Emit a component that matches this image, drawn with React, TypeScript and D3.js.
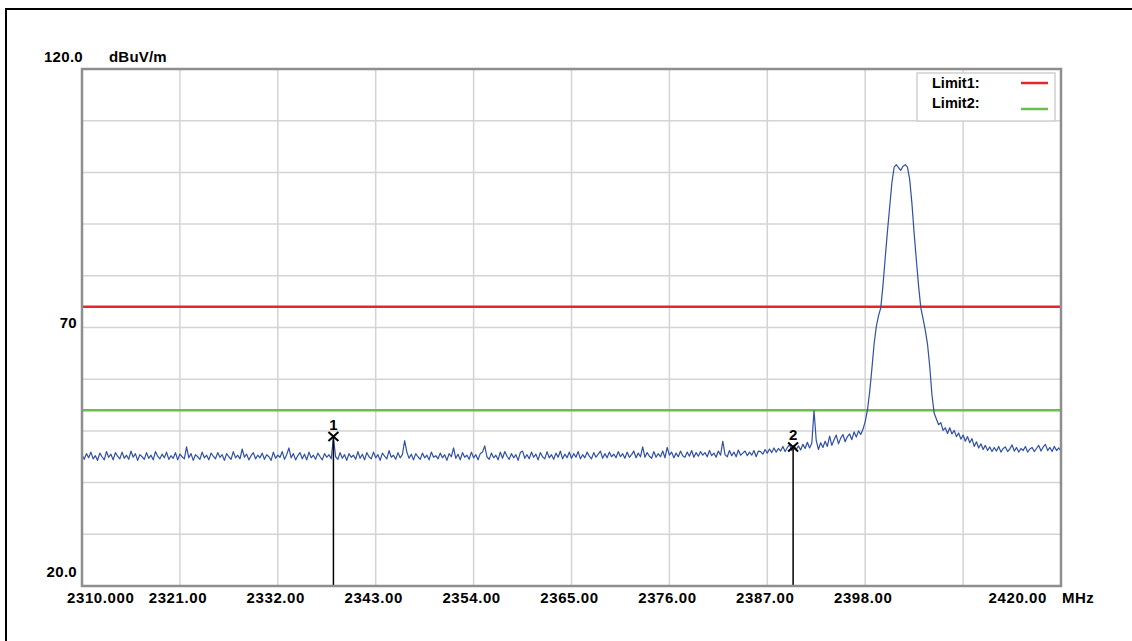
import React from "react";
import * as d3 from "d3";

// spectrum analyser sweep, 2310 - 2420 MHz, 0.25 MHz per point
const traceStartMHz = 2310;
const traceStepMHz = 0.25;
const traceLevels = [
  45.4, 44.5, 45.6, 44.8, 45.9, 44.6, 45.2, 44.3, 45.7, 45.0, 44.4, 46.0, 44.9, 45.5, 44.4, 45.8, 45.1, 44.6, 45.9, 44.7,
  45.3, 44.5, 46.1, 44.9, 45.6, 44.3, 45.4, 45.0, 44.5, 45.8, 44.7, 45.3, 44.4, 46.0, 45.1, 44.6, 45.5, 44.8, 45.9, 44.5,
  45.2, 44.7, 45.8, 44.4, 45.5, 45.0, 44.6, 46.9, 44.8, 45.6, 44.3, 45.4, 45.0, 44.5, 45.9, 44.8, 45.3, 44.4, 45.7, 45.1,
  44.6, 45.8, 44.9, 45.4, 44.3, 45.6, 45.0, 44.5, 46.0, 44.8, 45.3, 44.6, 46.5, 44.9, 45.5, 44.4, 45.2, 45.8, 44.6, 45.3,
  44.8, 45.7, 44.5, 45.4, 45.0, 44.3, 45.9, 44.7, 45.3, 44.9, 46.0, 44.5, 45.4, 46.7, 44.8, 45.6, 44.4, 45.2, 45.8, 44.6,
  45.5, 44.4, 45.9, 44.8, 45.3, 44.5, 45.7, 45.0, 44.4, 45.6, 44.9, 45.4, 44.6, 48.6, 45.0, 44.5, 45.8, 44.7, 45.4, 44.3,
  45.6, 44.9, 45.3, 44.5, 46.0, 44.7, 45.5, 44.4, 45.8, 45.0, 44.6, 45.9, 44.8, 45.4, 44.3, 45.7, 45.1, 44.6, 46.2, 44.9,
  45.3, 44.5, 45.8, 44.8, 45.4, 48.1, 45.9, 44.7, 45.5, 44.4, 45.6, 45.0, 44.5, 45.7, 44.8, 45.3, 44.4, 45.9, 44.9, 45.2,
  44.6, 45.7, 44.8, 45.4, 44.3, 45.6, 45.0, 46.7, 44.7, 45.5, 44.4, 45.8, 44.9, 45.3, 44.5, 45.9, 44.8, 45.4, 44.4, 45.6,
  45.9, 47.1, 45.0, 44.5, 45.7, 44.8, 45.3, 44.4, 45.9, 44.7, 46.0, 45.1, 44.5, 45.6, 44.8, 45.4, 44.3, 45.8, 46.1, 44.7,
  45.4, 44.6, 45.9, 44.9, 45.5, 44.4, 45.8, 45.0, 44.6, 46.0, 44.8, 45.4, 44.5, 45.7, 44.9, 46.1, 44.6, 45.5, 44.8, 45.9,
  44.7, 45.6, 44.9, 46.0, 44.6, 45.4, 44.8, 45.9, 45.1, 44.6, 45.8, 44.9, 45.5, 46.1, 44.7, 45.6, 44.8, 45.9, 45.0, 45.5,
  44.8, 46.0, 45.0, 45.6, 44.7, 45.9, 44.9, 45.4, 46.1, 44.8, 45.7, 45.0, 46.9, 44.9, 45.8, 45.1, 44.7, 46.0, 44.9, 45.6,
  45.0, 46.1, 44.8, 46.8, 45.3, 45.9, 44.8, 45.7, 45.0, 46.1, 45.2, 44.9, 45.9, 45.1, 46.2, 44.9, 45.8, 45.1, 46.0, 45.3,
  45.8, 45.0, 46.2, 45.2, 45.7, 44.9, 46.1, 45.3, 48.0, 45.4, 45.0, 46.2, 45.2, 45.9, 45.0, 46.3, 45.3, 45.7, 46.1, 45.2,
  45.9, 45.3, 46.2, 45.0, 46.1,
  46.0, 45.5, 46.4, 45.7, 46.5, 45.8, 46.7, 45.9, 46.6, 46.1, 47.0, 46.0, 46.8, 47.3, 46.2, 47.2, 46.4, 47.1, 46.3, 47.4,
  46.6, 47.8, 46.7, 47.6, 53.9, 48.1, 46.4, 47.7, 46.8, 48.0, 47.0, 49.0, 47.2, 48.3, 49.2, 47.5, 48.6, 49.3, 47.9, 48.9,
  49.4, 48.3, 49.8, 48.8, 50.0, 49.3, 50.3,
  51.8, 54.0, 57.5, 62.0, 66.8, 70.2, 72.3, 73.8, 78.2, 83.5, 88.6, 93.3, 98.0, 101.0, 101.5, 100.9, 100.4, 101.2, 101.5, 101.0,
  98.6, 94.0, 88.2, 83.0, 78.0, 73.8, 71.7, 69.5, 66.8, 62.5, 57.0, 53.4, 52.3, 51.2,
  51.6, 50.1, 50.6, 49.5, 50.6, 49.4, 50.1, 48.9, 49.6, 48.4, 49.2, 48.0, 48.9, 47.7, 48.5, 47.0, 47.9, 46.7, 47.5, 46.4,
  47.2, 46.2, 46.9,
  46.0, 46.8, 46.1, 47.0, 45.9, 46.6, 46.9, 46.0, 46.5, 47.3, 46.1, 46.8, 45.9, 46.6, 46.2, 47.0, 45.9, 46.5, 46.8, 46.0,
  46.6, 47.2, 46.1, 46.9, 47.4, 46.2, 46.8, 46.0, 47.0, 46.2, 46.7, 46.1,
];

const xTicks = [2310, 2321, 2332, 2343, 2354, 2365, 2376, 2387, 2398, 2409, 2420];
const xTickLabels = ["2310.000", "2321.00", "2332.00", "2343.00", "2354.00", "2365.00", "2376.00", "2387.00", "2398.00", "", "2420.00"];
const yTicks = [20, 30, 40, 50, 60, 70, 80, 90, 100, 110, 120];
const yLabelValues = [120, 70, 20];
const yLabelTexts = ["120.0", "70", "20.0"];

const limitNames = ["Limit1:", "Limit2:"];
const limitLevels = [74, 54];
const limitColors = ["#e5262b", "#6abf48"];

const markerNames = ["1", "2"];
const markerFreqs = [2338.25, 2389.9];
const markerLevels = [48.9, 46.9];

const W = 1132, H = 641;
const plot = { left: 82, top: 69, right: 1061, bottom: 586 };
const FONT = "'Liberation Sans', Arial, sans-serif";

export default function App() {
  const x = d3.scaleLinear().domain([2310, 2420]).range([plot.left, plot.right]);
  const y = d3.scaleLinear().domain([20, 120]).range([plot.bottom, plot.top]);

  const line = d3.line<number>()
    .x((d, i) => x(traceStartMHz + i * traceStepMHz))
    .y((d) => y(d));

  const labelStyle = { fontFamily: FONT, fontWeight: 700, fontSize: 15, fill: "#000" };

  return (
    <div style={{ position: "fixed", left: 0, top: 0, width: W, height: H, background: "#fff" }}>
      <svg width={W} height={H} style={{ display: "block" }}>
        <rect width={W} height={H} fill="#fff" />
        {/* outer frame */}
        <line x1={6} x2={6} y1={8} y2={H} stroke="#000" strokeWidth={2} />
        <line x1={5} x2={W} y1={9} y2={9} stroke="#000" strokeWidth={2} />

        {/* grid */}
        {xTicks.map((t) => (
          <line key={"gx" + t} x1={x(t)} x2={x(t)} y1={plot.top} y2={plot.bottom} stroke="#d4d4d4" strokeWidth={1.5} />
        ))}
        {yTicks.map((t) => (
          <line key={"gy" + t} x1={plot.left} x2={plot.right} y1={y(t)} y2={y(t)} stroke="#d4d4d4" strokeWidth={1.5} />
        ))}

        {/* limit lines */}
        {limitLevels.map((v, i) => (
          <line key={"lim" + i} x1={plot.left} x2={plot.right} y1={y(v)} y2={y(v)} stroke={limitColors[i]} strokeWidth={2.5} />
        ))}

        {/* trace */}
        <path d={line(traceLevels) || ""} fill="none" stroke="#2f4fa8" strokeWidth={1.2} strokeLinejoin="round" />

        {/* markers */}
        {markerFreqs.map((f, i) => {
          const mx = x(f), my = y(markerLevels[i]);
          return (
            <g key={"m" + i}>
              <line x1={mx} x2={mx} y1={my} y2={plot.bottom} stroke="#000" strokeWidth={1.5} />
              <line x1={mx - 5} x2={mx + 5} y1={my - 4.5} y2={my + 4.5} stroke="#000" strokeWidth={2} />
              <line x1={mx - 5} x2={mx + 5} y1={my + 4.5} y2={my - 4.5} stroke="#000" strokeWidth={2} />
              <text x={mx} y={my - 7} textAnchor="middle" style={labelStyle}>{markerNames[i]}</text>
            </g>
          );
        })}

        {/* plot frame */}
        <rect x={plot.left} y={plot.top} width={plot.right - plot.left} height={plot.bottom - plot.top}
          fill="none" stroke="#8e8e8e" strokeWidth={2.5} />

        {/* legend */}
        <rect x={917} y={73} width={138} height={48} fill="#fff" stroke="#cfcfcf" strokeWidth={1.5} />
        {limitNames.map((n, i) => (
          <g key={"lg" + i}>
            <text x={932} y={88 + i * 20} style={{ ...labelStyle, fontSize: 14.5 }}>{n}</text>
            <line x1={1021} x2={1048} y1={83 + i * 26} y2={83 + i * 26} stroke={limitColors[i]} strokeWidth={2.5} />
          </g>
        ))}

        {/* y labels */}
        {yLabelValues.map((v, i) => {
          const top = i === 0, bottom = i === yLabelValues.length - 1;
          const yy = top ? y(v) - 7 : bottom ? y(v) - 9 : y(v) + 0.5;
          return (
            <text key={"yl" + v} x={top ? 83 : 77} y={yy} textAnchor="end" style={{ ...labelStyle, letterSpacing: 0.3 }}>
              {yLabelTexts[i]}
            </text>
          );
        })}
        <text x={109} y={62} style={{ ...labelStyle, letterSpacing: 0.2 }}>dBuV/m</text>

        {/* x labels */}
        {xTicks.map((t, i) => {
          const first = i === 0, last = i === xTicks.length - 1;
          const xx = first ? x(t) - 15 : last ? x(t) - 14 : x(t) - 2;
          return (
            <text key={"xl" + t} x={xx} y={603} textAnchor={first ? "start" : last ? "end" : "middle"}
              style={{ ...labelStyle, letterSpacing: 0.6 }}>
              {xTickLabels[i]}
            </text>
          );
        })}
        <text x={1062} y={603} style={{ ...labelStyle, letterSpacing: 0.5 }}>MHz</text>
      </svg>
    </div>
  );
}
